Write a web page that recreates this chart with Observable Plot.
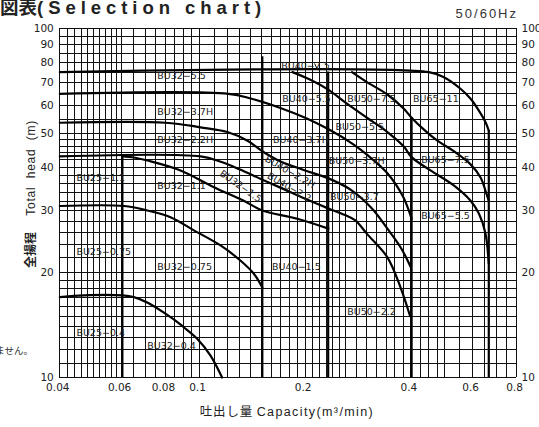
<!DOCTYPE html>
<html><head><meta charset="utf-8">
<script src="https://cdn.jsdelivr.net/npm/d3@7"></script>
<script src="https://cdn.jsdelivr.net/npm/@observablehq/plot@0.6"></script>
<style>
body{margin:0;background:#fff;}
#chart{width:539px;height:427px;overflow:hidden;}
</style></head>
<body><div id="chart"></div>
<script>
// ---- axis ticks and grid ----
const xTicks = [0.04,0.06,0.08,0.1,0.2,0.4,0.6,0.8];
const yTicks = [10,20,30,40,50,60,70,80,90,100];
const xGrid = [0.04,0.042,0.044,0.046,0.048,0.05,0.052,0.054,0.056,0.058,0.06,0.065,0.07,0.075,0.08,0.085,0.09,0.095,0.1,
  0.11,0.12,0.13,0.14,0.15,0.16,0.17,0.18,0.19,0.2,0.21,0.22,0.23,0.24,0.25,0.26,0.28,0.3,0.32,0.34,0.36,0.38,0.4,
  0.425,0.45,0.475,0.5,0.55,0.6,0.65,0.7,0.75,0.8];
const yGrid = [10,11,12,13,14,15,16,17,18,19,20,22,24,26,28,30,32,34,36,38,40,42,44,46,48,50,55,60,65,70,75,80,85,90,95,100];

// ---- boundary curves (capacity m3/min, head m) ----
const line75 = [[0.04,75],[0.45,75],[0.497,72.5],[0.554,67.2],[0.592,62.9],[0.625,58.2],[0.653,53.9],[0.667,51]];
const curve75kw = [[0.272,75],[0.300,70.2],[0.343,64.7],[0.382,58.9],[0.402,55.5],[0.436,51.3],[0.476,47.7],[0.530,44.5],[0.592,40.8],[0.632,37.4],[0.657,33.6],[0.667,32.1]];
const curve55kw = [[0.184,75],[0.207,71.3],[0.2326,66.8],[0.2636,60.8],[0.300,55.5],[0.343,50.5],[0.382,45.9],[0.402,42.8],[0.455,39.2],[0.530,35.5],[0.592,32.1],[0.625,29.5],[0.652,26],[0.667,21.2]];
const curve37H = [[0.04,65],[0.121,65],[0.140,63.0],[0.170,59.2],[0.2,55.5],[0.2326,51.5],[0.275,46.5],[0.3,43.5],[0.343,38.5],[0.38,33],[0.402,28.5]];
const curveC = [[0.04,53.7],[0.08,53.7],[0.1007,52.1],[0.12,50.5],[0.137,47.7],[0.1525,44.2],[0.17,41.6],[0.2,39.2],[0.233,37.2],[0.27,34.5],[0.31,30.5],[0.343,26.7],[0.375,23.5],[0.4,20.7]];
const curveD = [[0.04,43],[0.1007,43],[0.115,41.5],[0.13,39.5],[0.15,37],[0.17,35],[0.2,32.5],[0.233,30.5],[0.26,29.2],[0.278,28.2],[0.3,25.8],[0.343,22.1],[0.374,18.1],[0.398,15]];
const curveE = [[0.0603,43],[0.065,42.7],[0.071,41.85],[0.0883,39.2],[0.1099,35.1],[0.1337,32.1],[0.151,30.1],[0.19,28.5],[0.233,26.7]];
const curveF = [[0.04,31],[0.061,31],[0.071,30.1],[0.0827,28.8],[0.0964,26.4],[0.1148,23.9],[0.131,21.6],[0.143,19.8],[0.151,18.1]];
const curveG = [[0.04,17],[0.065,17],[0.0827,14.9],[0.0902,13.93],[0.0985,12.91],[0.1075,11.56],[0.116,10]];
const curves = {line75, curve75kw, curve55kw, curve37H, curveC, curveD, curveE, curveF, curveG};

// vertical limits of each pump bore
const limitQ  = [0.0603, 0.151, 0.2326, 0.402, 0.667];
const limitH1 = [10, 10, 10, 10, 10];
const limitH2 = [43, 83, 75, 55.5, 51];

// ---- model labels ----
const labelText = ["BU32−5.5","BU32−3.7H","BU32−2.2H","BU25−1.1","BU32−1.1","BU25−0.75","BU32−0.75","BU25−0.4","BU32−0.4",
  "BU40−7.5","BU40−5.5","BU50−7.5","BU65−11","BU50−5.5","BU40−3.7H","BU50−3.7H","BU65−7.5","BU50−3.7","BU65−5.5","BU40−1.5","BU50−2.2"];
const labelQ = [0.0758,0.0758,0.0758,0.0446,0.0758,0.0446,0.0758,0.0446,0.071,
  0.171,0.172,0.2636,0.406,0.244,0.162,0.2336,0.428,0.2355,0.428,0.161,0.2636];
const labelH = [73,57.5,48,37.4,35.3,22.9,20.7,13.4,12.34,
  77.9,62.9,62.9,62.9,52.1,48,41.7,41.9,33,29.1,20.7,15.4];
const rotText = ["BU32−1.5","BU40−2.2H","BU40−2.2"];
const rotQ = [0.131,0.181,0.180];
const rotH = [35.3,38.8,35.1];
const rotA = [35,30,30];
const pointerQ = [0.213,0.217], pointerH = [79.2,76.1];

// build tables
const lineRows = [];
for (const [id, pts] of Object.entries(curves)) for (const [q,h] of pts) lineRows.push({id,q,h});
const limits = limitQ.map((q,i)=>({q,h1:limitH1[i],h2:limitH2[i]}));
const labels = labelText.map((t,i)=>({t,q:labelQ[i],h:labelH[i]}));
const rlabels = rotText.map((t,i)=>({t,q:rotQ[i],h:rotH[i],a:rotA[i]}));

const FONT = "'DejaVu Sans',sans-serif";

const chart = Plot.plot({
  width: 539, height: 427,
  marginLeft: 59.3, marginRight: 23, marginTop: 28, marginBottom: 50,
  style: {fontFamily: FONT, fontSize: "10.5px", color: "#222", background: "#fff"},
  x: {type: "log", domain: [0.04, 0.8], axis: null},
  y: {type: "log", domain: [10, 100], axis: null},
  marks: [
    Plot.ruleX(xGrid, {stroke: "#111", strokeWidth: 1, shapeRendering: "crispEdges"}),
    Plot.ruleY(yGrid, {stroke: "#111", strokeWidth: 1, shapeRendering: "crispEdges"}),
    Plot.ruleX(limits, {x: "q", y1: "h1", y2: "h2", stroke: "#000", strokeWidth: 2.2}),
    Plot.line(lineRows, {x: "q", y: "h", z: "id", stroke: "#000", strokeWidth: 2.2, curve: "catmull-rom"}),
    Plot.line(pointerQ.map((q,i)=>({q,h:pointerH[i]})), {x:"q", y:"h", stroke:"#000", strokeWidth:1}),
    Plot.text(labels, {x: "q", y: "h", text: "t", textAnchor: "start", fontSize: 9.5, fill: "#222", fontFamily: FONT, ariaLabel: "labels-straight"}),
    Plot.text(rlabels, {x: "q", y: "h", text: "t", rotate: "a", textAnchor: "middle", fontSize: 9.5, fill: "#222", fontFamily: FONT, ariaLabel: "labels-rotated"}),
    Plot.text(xTicks, {x: d => d, text: d => String(d), frameAnchor: "bottom", dy: 13, dx: -2, fontSize: 10.5, fill: "#222", ariaLabel: "tick-labels"}),
    Plot.text(yTicks, {y: d => d, text: d => String(d), frameAnchor: "left", dx: -6, textAnchor: "end", fontSize: 10.5, fill: "#222", ariaLabel: "tick-labels"}),
    Plot.text(yTicks, {y: d => d, text: d => String(d), frameAnchor: "right", dx: 5, textAnchor: "start", fontSize: 10.5, fill: "#222", ariaLabel: "tick-labels"})
  ]
});
document.getElementById("chart").append(chart);

const NS = "http://www.w3.org/2000/svg";
// wrap a text in a group that carries its position plus a horizontal squeeze
function squeeze(t, k) {
  const tr = t.getAttribute("transform") || "";
  const g = document.createElementNS(NS, "g");
  g.setAttribute("transform", `${tr} scale(${k},1)`.trim());
  t.removeAttribute("transform");
  t.parentNode.insertBefore(g, t);
  g.appendChild(t);
  return g;
}
Array.from(chart.querySelectorAll('g[aria-label="tick-labels"] text')).forEach(t => squeeze(t, 0.46));

// white boxes behind the condensed model labels
for (const lab of ["labels-straight","labels-rotated"]) {
  const host = chart.querySelector(`g[aria-label="${lab}"]`);
  if (!host) continue;
  Array.from(host.querySelectorAll("text")).forEach(t => {
    const g = squeeze(t, 0.7);
    const b = t.getBBox();
    const r = document.createElementNS(NS, "rect");
    r.setAttribute("x", b.x - 2); r.setAttribute("y", b.y + 1.2);
    r.setAttribute("width", b.width + 4); r.setAttribute("height", b.height - 2.2);
    r.setAttribute("fill", "#fff"); r.setAttribute("stroke", "#888"); r.setAttribute("stroke-width", "0.8");
    g.insertBefore(r, t);
  });
}

// titles and notes
const s = d3.select(chart);
const title = s.append("text").attr("x", -37).attr("y", 13.5).attr("text-anchor", "start").attr("font-weight", "bold").attr("font-size", 18.5).attr("fill", "#222");
title.append("tspan").attr("font-family", "'Noto Sans CJK JP',sans-serif").attr("letter-spacing", 0).text("選定図表");
title.append("tspan").attr("font-family", "'Liberation Sans',Arial,sans-serif").attr("letter-spacing", 4.95).text("(Selection chart)");
s.append("text").attr("x", 518).attr("y", 18).attr("text-anchor", "end").attr("font-family", "'Liberation Sans',Arial,sans-serif")
  .attr("font-size", 13).attr("letter-spacing", 2).attr("fill", "#333").text("50/60Hz");
s.append("text").attr("x", 33).attr("y", 354).attr("text-anchor", "end").attr("font-family", "'Noto Sans CJK JP',sans-serif")
  .attr("font-size", 9.5).attr("fill", "#333").text("ありません。");
const yt = s.append("text").attr("transform", "translate(35,194) rotate(-90)").attr("text-anchor", "middle").attr("font-size", 12).attr("fill", "#222");
yt.append("tspan").attr("font-family", "'Noto Sans CJK JP',sans-serif").attr("font-weight", "bold").text("全揚程");
yt.append("tspan").attr("font-family", "'Liberation Sans',Arial,sans-serif").attr("letter-spacing", 0.8).attr("word-spacing", 4).text("  Total head (m)");
const xt = s.append("text").attr("x", 287).attr("y", 416).attr("text-anchor", "middle").attr("font-size", 12.5).attr("fill", "#222");
xt.append("tspan").attr("font-family", "'Noto Sans CJK JP',sans-serif").attr("letter-spacing", 0.8).text("吐出し量 ");
xt.append("tspan").attr("font-family", "'Liberation Sans',Arial,sans-serif").attr("letter-spacing", 1.4).text("Capacity(m³/min)");
</script>
</body></html>
